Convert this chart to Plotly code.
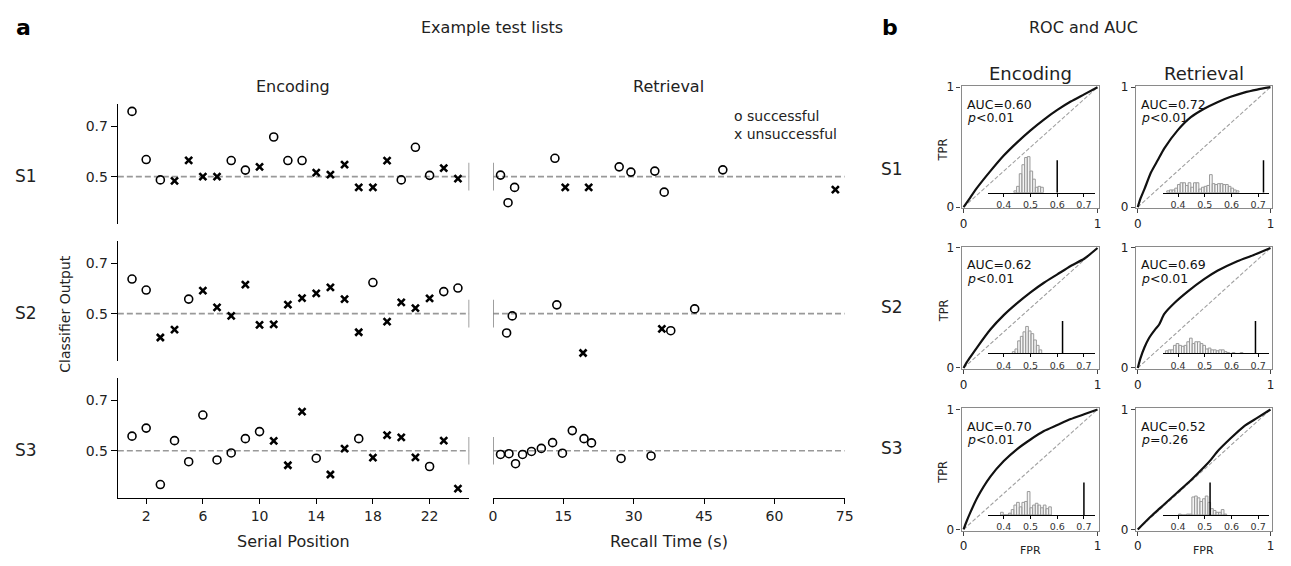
import plotly.graph_objects as go

W, H = 1291, 566
FONT = "DejaVu Sans"

# ---------------- data ----------------
serial_pos = list(range(1, 25))
enc_S1 = [0.760, 0.568, 0.487, 0.483, 0.565, 0.500, 0.500, 0.564, 0.526, 0.539, 0.658, 0.564,
          0.564, 0.516, 0.508, 0.548, 0.457, 0.457, 0.564, 0.487, 0.617, 0.505, 0.534, 0.492]
enc_S1_ok = [1, 1, 1, 0, 0, 0, 0, 1, 1, 0, 1, 1, 1, 0, 0, 0, 0, 0, 0, 1, 1, 1, 0, 0]
enc_S2 = [0.638, 0.594, 0.405, 0.436, 0.558, 0.592, 0.525, 0.491, 0.616, 0.455, 0.457, 0.536,
          0.562, 0.581, 0.605, 0.558, 0.426, 0.624, 0.468, 0.545, 0.522, 0.561, 0.588, 0.602]
enc_S2_ok = [1, 1, 0, 0, 1, 0, 0, 0, 0, 0, 0, 0, 0, 0, 0, 0, 0, 1, 0, 0, 0, 0, 1, 1]
enc_S3 = [0.558, 0.590, 0.365, 0.540, 0.456, 0.642, 0.463, 0.491, 0.548, 0.576, 0.539, 0.442,
          0.656, 0.470, 0.405, 0.508, 0.548, 0.472, 0.562, 0.553, 0.473, 0.437, 0.540, 0.349]
enc_S3_ok = [1, 1, 1, 1, 1, 1, 1, 1, 1, 1, 0, 0, 0, 1, 0, 0, 1, 0, 0, 0, 0, 1, 0, 0]

ret_S1_t = [1.6, 3.2, 4.6, 13.2, 15.4, 20.4, 26.9, 29.4, 34.5, 36.5, 49.0, 73.0]
ret_S1 = [0.506, 0.396, 0.457, 0.573, 0.457, 0.457, 0.539, 0.518, 0.522, 0.438, 0.527, 0.448]
ret_S1_ok = [1, 1, 1, 1, 0, 0, 1, 1, 1, 1, 1, 0]
ret_S2_t = [2.9, 4.1, 13.6, 19.2, 36.0, 37.9, 43.0]
ret_S2 = [0.423, 0.491, 0.535, 0.343, 0.439, 0.432, 0.519]
ret_S2_ok = [1, 1, 1, 0, 0, 1, 1]
ret_S3_t = [1.6, 3.4, 4.8, 6.3, 8.2, 10.3, 12.7, 14.8, 16.9, 19.4, 21.0, 27.3, 33.7]
ret_S3 = [0.485, 0.488, 0.448, 0.485, 0.497, 0.509, 0.532, 0.490, 0.580, 0.548, 0.531, 0.469, 0.479]
ret_S3_ok = [1, 1, 1, 1, 1, 1, 1, 1, 1, 1, 1, 1, 1]

chance_level = 0.5
boundary_half = 0.055
enc_ticks = [2, 6, 10, 14, 18, 22]
ret_ticks = [0, 15, 30, 45, 60, 75]
y_ticks = [0.5, 0.7]

# ROC curves
roc_enc_S1_fpr = [0, 0.05, 0.1, 0.2, 0.3, 0.4, 0.5, 0.6, 0.7, 0.8, 0.9, 1]
roc_enc_S1_tpr = [0, 0.08, 0.16, 0.30, 0.43, 0.54, 0.64, 0.73, 0.81, 0.88, 0.94, 1]
roc_ret_S1_fpr = [0, 0.02, 0.05, 0.1, 0.15, 0.2, 0.3, 0.4, 0.5, 0.6, 0.7, 0.8, 0.9, 1]
roc_ret_S1_tpr = [0, 0.07, 0.15, 0.29, 0.39, 0.49, 0.64, 0.75, 0.82, 0.875, 0.92, 0.955, 0.98, 1]
roc_enc_S2_fpr = [0, 0.02, 0.05, 0.1, 0.2, 0.3, 0.4, 0.5, 0.6, 0.7, 0.8, 0.9, 1]
roc_enc_S2_tpr = [0, 0.04, 0.09, 0.17, 0.32, 0.44, 0.54, 0.63, 0.71, 0.78, 0.85, 0.91, 1]
roc_ret_S2_fpr = [0, 0.02, 0.05, 0.085, 0.13, 0.16, 0.2, 0.28, 0.38, 0.5, 0.6, 0.75, 0.87, 1]
roc_ret_S2_tpr = [0, 0.08, 0.17, 0.25, 0.32, 0.36, 0.45, 0.545, 0.64, 0.74, 0.81, 0.89, 0.94, 1]
roc_enc_S3_fpr = [0, 0.02, 0.05, 0.1, 0.2, 0.3, 0.4, 0.5, 0.6, 0.7, 0.8, 0.9, 1]
roc_enc_S3_tpr = [0, 0.06, 0.14, 0.26, 0.44, 0.57, 0.67, 0.75, 0.82, 0.87, 0.92, 0.96, 1]
roc_ret_S3_fpr = [0, 0.1, 0.2, 0.3, 0.4, 0.5, 0.55, 0.6, 0.7, 0.8, 0.9, 1]
roc_ret_S3_tpr = [0, 0.11, 0.21, 0.31, 0.41, 0.52, 0.58, 0.65, 0.76, 0.86, 0.93, 1]

auc_enc = [0.60, 0.62, 0.70]
auc_ret = [0.72, 0.69, 0.52]
p_enc = ["&lt;0.01", "&lt;0.01", "&lt;0.01"]
p_ret = ["&lt;0.01", "&lt;0.01", "=0.26"]

# permutation histograms (bin width 0.01)
hist_width = 0.01
hist_enc_S1_c = [0.443 + 0.01 * k for k in range(11)]
hist_enc_S1 = [2, 7, 21, 31, 39, 40, 24, 15, 6, 7, 6]
hist_ret_S1_c = [0.363 + 0.01 * k for k in range(27)]
hist_ret_S1 = [2, 3, 3, 5, 9, 11, 11, 8, 11, 6, 11, 11, 4, 6, 7, 8, 20, 10, 9, 10, 10, 9, 9, 7, 5, 3, 2]
hist_enc_S2_c = [0.437 + 0.01 * k for k in range(11)]
hist_enc_S2 = [2, 5, 14, 19, 24, 30, 25, 22, 15, 9, 4]
hist_ret_S2_c = [0.358 + 0.01 * k for k in range(29)]
hist_ret_S2 = [3, 4, 4, 9, 11, 9, 8, 9, 13, 17, 11, 13, 13, 11, 9, 5, 6, 4, 4, 3, 4, 4, 2, 1, 0, 1, 0, 0, 1]
hist_enc_S3_c = [0.393 + 0.01 * k for k in range(19)]
hist_enc_S3 = [3, 0, 0, 2, 6, 11, 14, 9, 14, 15, 26, 8, 11, 13, 11, 8, 11, 7, 9]
hist_ret_S3_c = [0.407 + 0.01 * k for k in range(18)]
hist_ret_S3 = [1, 0, 0, 1, 1, 20, 21, 19, 15, 18, 21, 14, 7, 5, 3, 3, 6, 1]
auc_line_height = 36
hist_ticks = [0.4, 0.5, 0.6, 0.7]

# ---------------- layout helpers ----------------
ENC_RANGE = [0, 24.8]
RET_RANGE = [0, 75]
Y_RANGE = [0.31, 0.79]
INSET_X_RANGE = [0.342, 0.74]
INSET_Y_RANGE = [0, 48.9]


def xdom(a, b):
    return [a / W, b / W]


def ydom(top, bottom):
    return [1 - bottom / H, 1 - top / H]


def ax_name(kind, i):
    return kind + "axis" + ("" if i == 1 else str(i))


def ref(kind, i):
    return kind + ("" if i == 1 else str(i))


fig = go.Figure()
layout = {}
annotations = []
TICKFONT = dict(family=FONT, size=14, color="#222")


def add_axes(i, xd, yd, xa, ya):
    layout[ax_name("x", i)] = dict(domain=xd, anchor=ref("y", i), showgrid=False, zeroline=False, **xa)
    layout[ax_name("y", i)] = dict(domain=yd, anchor=ref("x", i), showgrid=False, zeroline=False, **ya)


def text(px, py, s, size, xanchor="center", textangle=0, weight=None, color="#222"):
    f = dict(family=FONT, size=size, color=color)
    if weight:
        f["weight"] = weight
    annotations.append(dict(x=px / W, y=1 - py / H, xref="paper", yref="paper", text=s,
                            showarrow=False, xanchor=xanchor, yanchor="middle",
                            textangle=textangle, font=f))


circle_marker = dict(symbol="circle-open", size=8, color="black", line=dict(width=1.6, color="black"))
x_marker = dict(symbol="x-thin-open", size=7, color="black", line=dict(width=2.6, color="black"))


def add_scatter(i, xs, ys, ok):
    xo = [x for x, k in zip(xs, ok) if k]
    yo = [y for y, k in zip(ys, ok) if k]
    xx = [x for x, k in zip(xs, ok) if not k]
    yx = [y for y, k in zip(ys, ok) if not k]
    fig.add_trace(go.Scatter(x=xo, y=yo, mode="markers", marker=circle_marker,
                             xaxis=ref("x", i), yaxis=ref("y", i), hoverinfo="skip"))
    fig.add_trace(go.Scatter(x=xx, y=yx, mode="markers", marker=x_marker,
                             xaxis=ref("x", i), yaxis=ref("y", i), hoverinfo="skip"))


# ---------------- panel a ----------------
ENC_X = (115, 470)
RET_X = (494, 849.3)
row_tops = [100, 240, 380]
ROW_H = 123
enc_data = [(enc_S1, enc_S1_ok), (enc_S2, enc_S2_ok), (enc_S3, enc_S3_ok)]
ret_data = [(ret_S1_t, ret_S1, ret_S1_ok), (ret_S2_t, ret_S2, ret_S2_ok), (ret_S3_t, ret_S3, ret_S3_ok)]
dash_line = dict(color="#999", width=1.6, dash="6px,3px")
bound_line = dict(color="#888", width=1.6)

for r in range(3):
    top = row_tops[r]
    yd = ydom(top, top + ROW_H)
    last = r == 2
    # encoding
    i = 1 + r
    xa = dict(range=ENC_RANGE, visible=last)
    if last:
        xa.update(showline=True, linecolor="black", linewidth=1.3, ticks="outside", ticklen=5,
                  tickwidth=1.3, tickcolor="black", tickvals=enc_ticks, tickfont=TICKFONT)
    ya = dict(range=Y_RANGE, showline=True, linecolor="black", linewidth=1.3, ticks="outside",
              ticklen=6, tickwidth=1.3, tickcolor="black", tickvals=y_ticks,
              ticktext=["0.5", "0.7"], tickfont=TICKFONT)
    add_axes(i, xdom(*ENC_X), yd, xa, ya)
    fig.add_trace(go.Scatter(x=ENC_RANGE, y=[chance_level] * 2, mode="lines", line=dash_line,
                             xaxis=ref("x", i), yaxis=ref("y", i), hoverinfo="skip"))
    fig.add_trace(go.Scatter(x=[ENC_RANGE[1]] * 2, y=[chance_level - boundary_half, chance_level + boundary_half],
                             mode="lines", line=bound_line, xaxis=ref("x", i), yaxis=ref("y", i), hoverinfo="skip"))
    add_scatter(i, serial_pos, enc_data[r][0], enc_data[r][1])
    # retrieval
    i = 4 + r
    xa = dict(range=RET_RANGE, visible=last)
    if last:
        xa.update(showline=True, linecolor="black", linewidth=1.3, ticks="outside", ticklen=5,
                  tickwidth=1.3, tickcolor="black", tickvals=ret_ticks, tickfont=TICKFONT)
    ya = dict(range=Y_RANGE, visible=False)
    add_axes(i, xdom(*RET_X), yd, xa, ya)
    fig.add_trace(go.Scatter(x=RET_RANGE, y=[chance_level] * 2, mode="lines", line=dash_line,
                             xaxis=ref("x", i), yaxis=ref("y", i), hoverinfo="skip"))
    fig.add_trace(go.Scatter(x=[RET_RANGE[0]] * 2, y=[chance_level - boundary_half, chance_level + boundary_half],
                             mode="lines", line=bound_line, xaxis=ref("x", i), yaxis=ref("y", i), hoverinfo="skip"))
    add_scatter(i, ret_data[r][0], ret_data[r][1], ret_data[r][2])

# ---------------- panel b ----------------
ROC_COLS = [(967.3, 1106), (1143.3, 1280.7)]
roc_tops = [81.7, 246, 411]
ROC_H = 125
roc_curves = [
    [(roc_enc_S1_fpr, roc_enc_S1_tpr), (roc_ret_S1_fpr, roc_ret_S1_tpr)],
    [(roc_enc_S2_fpr, roc_enc_S2_tpr), (roc_ret_S2_fpr, roc_ret_S2_tpr)],
    [(roc_enc_S3_fpr, roc_enc_S3_tpr), (roc_ret_S3_fpr, roc_ret_S3_tpr)],
]
hists = [
    [(hist_enc_S1_c, hist_enc_S1), (hist_ret_S1_c, hist_ret_S1)],
    [(hist_enc_S2_c, hist_enc_S2), (hist_ret_S2_c, hist_ret_S2)],
    [(hist_enc_S3_c, hist_enc_S3), (hist_ret_S3_c, hist_ret_S3)],
]
aucs = [[auc_enc[r], auc_ret[r]] for r in range(3)]
pvals = [[p_enc[r], p_ret[r]] for r in range(3)]
ROC_TICKFONT = dict(family=FONT, size=12, color="#222")
INSET_TICKFONT = dict(family=FONT, size=9.5, color="#333")

for r in range(3):
    top = roc_tops[r]
    bottom = top + ROC_H
    for c in range(2):
        left, right = ROC_COLS[c]
        i = 7 + r * 2 + c
        common = dict(showline=True, mirror=True, linecolor="#8a8a8a", linewidth=1.2, ticks="outside",
                      ticklen=4, tickwidth=1.2, tickcolor="#444", tickvals=[0, 1], tickfont=ROC_TICKFONT)
        add_axes(i, xdom(left, right), ydom(top, bottom),
                 dict(range=[-0.015, 1.01], **common), dict(range=[-0.01, 1.01], **common))
        fig.add_trace(go.Scatter(x=[0, 1], y=[0, 1], mode="lines",
                                 line=dict(color="#a0a0a0", width=1.1, dash="4px,2px"),
                                 xaxis=ref("x", i), yaxis=ref("y", i), hoverinfo="skip"))
        fpr, tpr = roc_curves[r][c]
        fig.add_trace(go.Scatter(x=fpr, y=tpr, mode="lines", line=dict(color="#111", width=2.2, shape="spline", smoothing=0.6),
                                 xaxis=ref("x", i), yaxis=ref("y", i), hoverinfo="skip"))
        # inset histogram
        j = 13 + r * 2 + c
        ib = bottom - 16
        add_axes(j, xdom(left + 27, left + 134.4), ydom(ib - 45, ib),
                 dict(range=INSET_X_RANGE, showline=True, linecolor="black", linewidth=1,
                      ticks="outside", ticklen=3, tickwidth=1, tickcolor="black",
                      tickvals=hist_ticks, ticktext=["0.4", "0.5", "0.6", "0.7"], tickfont=INSET_TICKFONT),
                 dict(range=INSET_Y_RANGE, visible=False))
        hc, hv = hists[r][c]
        fig.add_trace(go.Bar(x=hc, y=hv, width=hist_width,
                             marker=dict(color="rgba(235,235,235,0.5)", line=dict(color="#9a9a9a", width=1)),
                             xaxis=ref("x", j), yaxis=ref("y", j), hoverinfo="skip"))
        fig.add_trace(go.Scatter(x=[aucs[r][c]] * 2, y=[0, auc_line_height], mode="lines",
                                 line=dict(color="black", width=1.5),
                                 xaxis=ref("x", j), yaxis=ref("y", j), hoverinfo="skip"))
        # AUC text
        text(left + 3, top + 18.5, "AUC=%.2f" % aucs[r][c], 12.5, xanchor="left", color="#111")
        text(left + 3, top + 32, "<i>p</i>" + pvals[r][c], 12.5, xanchor="left", color="#111")
    text(949, top + ROC_H / 2 + 3, "TPR", 11.5, textangle=-90)

# ---------------- text ----------------
text(20, 22, "a", 22, weight="bold", color="black")
text(895, 22, "b", 22, weight="bold", color="black")
text(493, 22, "Example test lists", 16)
text(1090, 22, "ROC and AUC", 16)
text(292, 82, "Encoding", 16)
text(671.5, 82, "Retrieval", 16)
text(1036.7, 69, "Encoding", 18)
text(1212, 69, "Retrieval", 18)
for r, lab in enumerate(["S1", "S2", "S3"]):
    text(22, 174 + 140 * r, lab, 17)
for py, lab in zip([167, 308, 452], ["S1", "S2", "S3"]):
    text(897, py, lab, 17)
text(62, 314, "Classifier Output", 14, textangle=-90)
text(292, 547, "Serial Position", 16)
text(671.5, 547, "Recall Time (s)", 16)
text(735, 112, "o successful", 14, xanchor="left")
text(735, 131, "x unsuccessful", 14, xanchor="left")
text(1036.7, 556, "FPR", 11)
text(1212, 556, "FPR", 11)

fig.update_layout(width=W, height=H, margin=dict(l=0, r=0, t=0, b=0), showlegend=False,
                  paper_bgcolor="white", plot_bgcolor="rgba(0,0,0,0)", annotations=annotations,
                  font=dict(family=FONT), **layout)
fig.write_html("out.html")
